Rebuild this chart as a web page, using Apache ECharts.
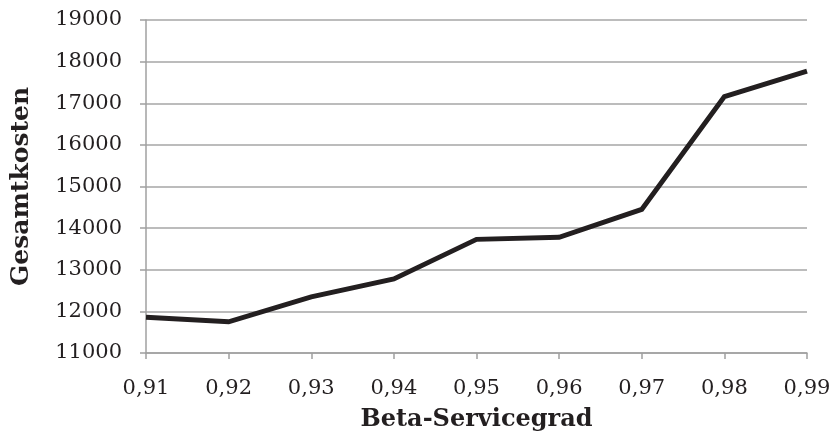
<!DOCTYPE html>
<html>
<head>
<meta charset="utf-8">
<script src="https://cdn.jsdelivr.net/npm/echarts@6/dist/echarts.min.js"></script>
<style>html,body{margin:0;padding:0;background:#fff;}#c{width:837px;height:437px;}</style>
</head>
<body>
<div id="c"></div>
<script>
const categories = ['0,91','0,92','0,93','0,94','0,95','0,96','0,97','0,98','0,99'];
const gesamtkosten = [11860, 11750, 12350, 12780, 13730, 13780, 14450, 17160, 17770];
const yTicks = {min: 11000, max: 19000, interval: 1000};

const font = 'DejaVu Serif';
const chart = echarts.init(document.getElementById('c'), null, {renderer: 'canvas'});
chart.setOption({
  animation: false,
  backgroundColor: '#ffffff',
  grid: {left: 146, right: 30, top: 20, bottom: 84, containLabel: false},
  xAxis: {
    type: 'category',
    data: categories,
    boundaryGap: false,
    name: 'Beta-Servicegrad',
    nameLocation: 'middle',
    nameGap: 55,
    nameTextStyle: {fontFamily: font, fontWeight: 'bold', fontSize: 24, color: '#231f20'},
    axisLine: {lineStyle: {color: '#a0a0a0', width: 1.5}},
    axisTick: {show: true, alignWithLabel: true, length: 6, lineStyle: {color: '#a0a0a0', width: 1.5}},
    axisLabel: {fontFamily: font, fontSize: 21, color: '#231f20', margin: 25},
    splitLine: {show: false}
  },
  yAxis: {
    type: 'value',
    min: yTicks.min, max: yTicks.max, interval: yTicks.interval,
    name: 'Gesamtkosten',
    nameLocation: 'middle',
    nameGap: 112,
    nameTextStyle: {fontFamily: font, fontWeight: 'bold', fontSize: 25, color: '#231f20'},
    axisLine: {show: true, lineStyle: {color: '#a0a0a0', width: 1.5}},
    axisTick: {show: true, length: 6, lineStyle: {color: '#a0a0a0', width: 1.5}},
    axisLabel: {fontFamily: font, fontSize: 21, color: '#231f20', margin: 24, formatter: v => String(v)},
    splitLine: {show: true, lineStyle: {color: '#a6a6a6', width: 1.5}}
  },
  series: [{
    type: 'line',
    data: gesamtkosten,
    showSymbol: false,
    symbol: 'none',
    lineStyle: {color: '#231f20', width: 5, cap: 'butt', join: 'miter'}
  }]
});
</script>
</body>
</html>
